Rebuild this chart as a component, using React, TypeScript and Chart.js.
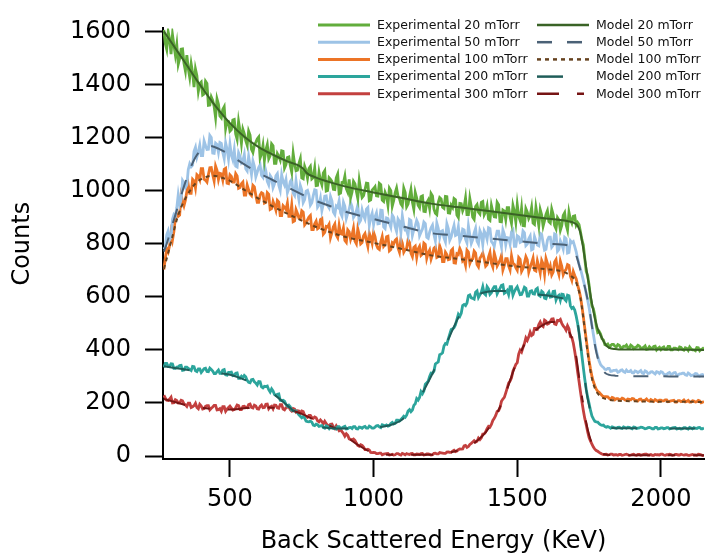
import React, { useEffect, useRef } from "react";
import { Chart, registerables } from "chart.js";

Chart.register(...registerables);

// Channel grid of the experimental spectra (keV)
const energyStart = 270;
const energyStep = 5;

// Experimental spectra (counts), one value per 5 keV channel from 270 keV; each row spans 100 keV
const exp20 = [
  1605, 1554, 1532, 1598, 1571, 1514, 1587, 1547, 1511, 1550, 1476, 1498, 1533, 1534, 1480, 1451, 1510, 1460, 1427, 1477,
  1444, 1390, 1458, 1433, 1374, 1404, 1409, 1360, 1364, 1412, 1404, 1321, 1322, 1353, 1340, 1317, 1276, 1345, 1325, 1281,
  1274, 1306, 1316, 1234, 1262, 1260, 1224, 1230, 1266, 1268, 1213, 1193, 1260, 1225, 1178, 1231, 1214, 1188, 1171, 1224,
  1209, 1155, 1144, 1171, 1182, 1195, 1202, 1123, 1139, 1170, 1114, 1153, 1173, 1120, 1132, 1176, 1169, 1103, 1103, 1139,
  1129, 1115, 1150, 1148, 1085, 1098, 1125, 1127, 1095, 1070, 1140, 1100, 1075, 1077, 1102, 1120, 1048, 1045, 1091, 1075,
  1047, 1083, 1091, 1044, 1049, 1085, 1019, 1020, 1068, 1039, 1022, 1066, 1075, 998, 1000, 1048, 1042, 1034, 1005, 1004,
  1048, 1062, 988, 991, 1030, 1029, 1054, 1007, 994, 1042, 973, 995, 1035, 1026, 998, 971, 1038, 1003, 974, 981,
  1003, 1028, 1027, 962, 965, 1002, 1008, 1015, 980, 979, 1027, 1022, 964, 959, 993, 980, 945, 1009, 1000, 942,
  963, 992, 1010, 979, 970, 950, 942, 1009, 993, 939, 949, 978, 1004, 957, 930, 993, 972, 945, 936, 977,
  980, 922, 921, 954, 964, 933, 989, 980, 931, 915, 910, 955, 974, 969, 937, 933, 978, 977, 916, 915,
  945, 936, 970, 966, 908, 899, 952, 951, 924, 938, 972, 910, 910, 970, 939, 900, 892, 940, 947, 919,
  912, 956, 959, 909, 920, 942, 893, 888, 944, 920, 901, 900, 956, 947, 883, 882, 927, 923, 891, 936,
  936, 901, 877, 944, 921, 882, 947, 904, 888, 933, 868, 867, 932, 919, 895, 906, 936, 878, 873, 937,
  903, 868, 928, 908, 866, 887, 910, 924, 883, 878, 930, 910, 868, 856, 898, 889, 851, 869, 906, 916,
  871, 851, 918, 891, 878, 903, 905, 870, 880, 872, 845, 815, 795, 745, 696, 680, 645, 598, 566, 555,
  529, 490, 466, 470, 460, 442, 437, 420, 418, 422, 411, 416, 421, 421, 414, 411, 420, 417, 408, 407,
  414, 413, 418, 408, 406, 418, 414, 405, 409, 411, 417, 414, 406, 407, 410, 415, 402, 403, 412, 407,
  405, 413, 414, 400, 406, 410, 401, 408, 411, 402, 402, 413, 413, 400, 400, 407, 407, 404, 401, 411,
  409, 402, 399, 408, 406, 398, 411, 404, 400, 400, 397, 409, 408, 397, 402, 404, 409,
];

const exp50 = [
  779, 788, 833, 848, 815, 826, 892, 910, 904, 935, 984, 948, 966, 1038, 1029, 1012, 1022, 1080, 1101, 1090,
  1096, 1148, 1163, 1126, 1145, 1171, 1132, 1132, 1187, 1170, 1155, 1156, 1208, 1200, 1141, 1140, 1179, 1174, 1144, 1181,
  1178, 1145, 1121, 1180, 1156, 1119, 1174, 1134, 1116, 1154, 1092, 1089, 1143, 1130, 1105, 1112, 1136, 1082, 1074, 1129,
  1094, 1061, 1112, 1092, 1052, 1069, 1087, 1097, 1057, 1050, 1095, 1075, 1035, 1022, 1057, 1048, 1011, 1025, 1056, 1064,
  1020, 1001, 1060, 1034, 1021, 1042, 992, 1007, 1034, 1042, 991, 982, 1037, 997, 966, 1019, 1002, 955, 966, 998,
  1001, 982, 945, 954, 981, 1003, 1001, 938, 946, 971, 925, 950, 979, 980, 944, 935, 978, 962, 919, 910,
  942, 937, 962, 916, 904, 956, 941, 895, 914, 930, 955, 940, 899, 908, 923, 946, 879, 888, 927, 906,
  893, 930, 936, 870, 899, 915, 872, 901, 916, 875, 876, 926, 925, 863, 857, 897, 895, 877, 862, 908,
  899, 864, 846, 893, 884, 842, 905, 870, 851, 850, 831, 891, 887, 831, 853, 866, 888, 876, 830, 843,
  855, 882, 876, 824, 820, 844, 860, 870, 835, 811, 878, 858, 823, 846, 849, 822, 807, 875, 857, 813,
  825, 849, 869, 831, 834, 864, 809, 822, 855, 852, 817, 803, 867, 833, 801, 815, 841, 858, 810, 799,
  849, 836, 797, 848, 837, 817, 860, 857, 808, 801, 790, 821, 847, 847, 815, 788, 852, 835, 796, 823,
  822, 799, 845, 852, 790, 790, 830, 826, 805, 808, 848, 841, 793, 799, 819, 829, 777, 780, 827, 810,
  795, 792, 839, 835, 804, 776, 779, 813, 825, 825, 787, 794, 837, 834, 771, 778, 811, 798, 780, 824,
  819, 765, 767, 811, 804, 808, 790, 770, 745, 722, 705, 685, 662, 640, 612, 588, 560, 525, 492, 458,
  425, 398, 375, 358, 345, 338, 334, 327, 326, 330, 330, 319, 320, 323, 323, 324, 316, 318, 323, 325,
  318, 315, 324, 318, 318, 322, 314, 313, 321, 319, 314, 318, 322, 313, 311, 321, 318, 311, 312, 317,
  318, 313, 309, 318, 316, 311, 318, 316, 309, 307, 307, 312, 315, 308, 309, 314, 315, 305, 305, 310,
  310, 312, 312, 306, 304, 313, 309, 303, 305, 306, 311, 310, 303, 301, 306, 307, 300,
];

const exp100 = [
  703, 744, 781, 769, 793, 841, 814, 846, 896, 913, 903, 908, 982, 961, 943, 964, 997, 1022, 990, 990,
  1043, 1037, 1010, 1060, 1055, 1041, 1083, 1083, 1043, 1039, 1032, 1061, 1086, 1087, 1060, 1036, 1092, 1076, 1042, 1065,
  1063, 1040, 1080, 1084, 1028, 1026, 1059, 1053, 1032, 1032, 1064, 1055, 1009, 1012, 1026, 1032, 983, 983, 1021, 1003,
  987, 981, 1020, 1014, 983, 956, 956, 983, 992, 989, 953, 956, 992, 986, 929, 932, 959, 944, 926, 963,
  957, 906, 906, 943, 937, 929, 953, 903, 903, 946, 883, 886, 928, 914, 896, 894, 924, 919, 871, 878,
  890, 900, 906, 853, 853, 875, 885, 856, 860, 891, 895, 836, 843, 865, 863, 873, 823, 842, 864, 874,
  833, 823, 869, 838, 836, 859, 812, 805, 852, 845, 816, 833, 859, 810, 800, 856, 833, 799, 804, 830,
  838, 813, 790, 840, 824, 802, 843, 827, 795, 782, 778, 807, 827, 790, 797, 826, 828, 773, 778, 804,
  799, 813, 818, 784, 768, 818, 802, 768, 778, 783, 815, 805, 764, 751, 786, 791, 748, 780, 790, 756,
  761, 802, 797, 745, 765, 776, 742, 760, 783, 788, 748, 751, 792, 776, 733, 733, 768, 759, 740, 742,
  774, 780, 728, 727, 762, 759, 782, 769, 735, 741, 719, 776, 769, 726, 740, 743, 772, 765, 722, 713,
  745, 754, 765, 743, 715, 721, 750, 767, 727, 712, 765, 744, 716, 727, 738, 756, 701, 718, 744, 744,
  716, 701, 754, 726, 722, 710, 700, 748, 741, 696, 707, 728, 751, 739, 693, 711, 728, 746, 700, 697,
  735, 714, 689, 737, 724, 685, 744, 726, 698, 716, 682, 693, 731, 740, 703, 684, 734, 715, 683, 696,
  703, 721, 718, 678, 662, 695, 680, 668, 645, 625, 600, 565, 525, 482, 440, 398, 360, 328, 300, 280,
  265, 252, 244, 240, 234, 228, 223, 224, 224, 223, 217, 214, 221, 219, 212, 216, 216, 213, 213, 218,
  216, 211, 210, 215, 214, 212, 217, 216, 210, 210, 208, 214, 215, 208, 210, 211, 215, 209, 207, 213,
  210, 206, 213, 210, 206, 211, 211, 208, 208, 212, 212, 205, 206, 208, 209, 210, 203, 203, 209, 209,
  205, 207, 211, 204, 206, 210, 203, 203, 208, 207, 204, 205, 210, 208, 201, 203, 206,
];

const exp200 = [
  334, 349, 349, 338, 338, 348, 347, 330, 330, 335, 336, 341, 342, 323, 324, 335, 335, 331, 326, 322,
  338, 337, 321, 318, 328, 328, 315, 322, 329, 331, 319, 318, 331, 326, 320, 311, 311, 318, 324, 312,
  312, 324, 326, 306, 305, 315, 315, 316, 303, 304, 312, 313, 293, 293, 301, 295, 304, 299, 285, 278,
  276, 288, 289, 280, 275, 268, 281, 280, 261, 257, 263, 262, 264, 250, 241, 253, 245, 232, 229, 233,
  234, 210, 209, 210, 207, 195, 188, 192, 186, 173, 172, 170, 170, 163, 155, 150, 144, 149, 143, 132,
  130, 129, 132, 128, 117, 115, 120, 118, 112, 114, 115, 108, 105, 114, 111, 104, 113, 109, 104, 106,
  102, 111, 111, 105, 106, 110, 112, 102, 103, 107, 108, 104, 111, 111, 103, 102, 109, 108, 105, 110,
  112, 105, 105, 113, 110, 105, 105, 109, 114, 115, 110, 107, 118, 116, 114, 117, 113, 115, 123, 127,
  121, 123, 135, 135, 132, 138, 143, 150, 146, 154, 170, 175, 167, 173, 191, 197, 217, 211, 221, 243,
  235, 245, 271, 276, 282, 300, 313, 312, 320, 347, 351, 355, 382, 384, 389, 415, 424, 422, 441, 459,
  477, 479, 484, 495, 515, 534, 526, 538, 567, 571, 567, 577, 604, 607, 596, 594, 591, 617, 622, 597,
  607, 618, 638, 612, 607, 638, 630, 609, 615, 630, 638, 638, 611, 622, 632, 643, 645, 613, 617, 624,
  608, 638, 638, 606, 620, 630, 638, 623, 608, 609, 621, 636, 632, 603, 603, 621, 623, 611, 610, 628,
  632, 606, 602, 621, 616, 595, 593, 610, 618, 599, 600, 620, 621, 588, 601, 606, 587, 610, 609, 591,
  585, 606, 604, 566, 556, 560, 550, 528, 500, 465, 425, 378, 333, 290, 252, 222, 198, 172, 151, 140,
  131, 129, 128, 122, 118, 116, 117, 111, 109, 111, 109, 105, 110, 108, 106, 105, 108, 109, 106, 104,
  110, 108, 105, 109, 108, 106, 103, 109, 108, 104, 105, 106, 109, 108, 106, 103, 104, 107, 108, 106,
  103, 103, 108, 108, 102, 103, 106, 106, 103, 104, 107, 107, 102, 104, 106, 107, 108, 102, 103, 105,
  102, 103, 107, 107, 104, 102, 108, 106, 103, 107, 105, 104, 107, 108, 103, 103, 106,
];

const exp300 = [
  229, 219, 210, 209, 215, 222, 200, 201, 212, 209, 200, 201, 210, 208, 197, 193, 187, 199, 199, 183,
  186, 190, 199, 183, 178, 195, 189, 177, 179, 187, 190, 190, 174, 180, 185, 191, 191, 174, 175, 179,
  169, 186, 186, 169, 177, 183, 188, 181, 173, 175, 182, 192, 190, 175, 175, 187, 188, 183, 182, 194,
  196, 183, 181, 192, 189, 178, 177, 187, 192, 182, 183, 195, 196, 178, 185, 188, 178, 192, 191, 182,
  180, 194, 194, 177, 174, 182, 184, 186, 175, 170, 179, 177, 166, 171, 170, 162, 170, 168, 154, 150,
  146, 153, 153, 145, 142, 147, 144, 133, 129, 136, 130, 121, 131, 123, 115, 115, 120, 121, 110, 104,
  114, 105, 96, 100, 92, 85, 75, 84, 78, 65, 63, 61, 64, 59, 49, 40, 37, 43, 40, 34,
  24, 24, 26, 23, 14, 13, 14, 13, 9, 9, 11, 11, 5, 7, 8, 9, 10, 4, 5, 7,
  4, 5, 9, 9, 6, 4, 10, 8, 5, 9, 7, 6, 9, 10, 5, 5, 8, 7, 6, 9,
  10, 4, 5, 8, 8, 7, 4, 5, 10, 11, 8, 8, 13, 12, 11, 10, 10, 15, 16, 14,
  14, 19, 22, 17, 19, 24, 27, 26, 27, 38, 40, 33, 36, 44, 48, 53, 58, 53, 56, 68,
  62, 69, 83, 84, 91, 103, 112, 109, 119, 134, 142, 153, 168, 171, 183, 206, 215, 221, 238, 256,
  275, 283, 295, 320, 332, 345, 352, 384, 399, 392, 409, 424, 445, 436, 449, 467, 454, 458, 481, 481,
  478, 495, 505, 492, 488, 512, 508, 497, 500, 507, 516, 517, 498, 496, 511, 510, 515, 500, 490, 484,
  474, 491, 480, 450, 447, 426, 395, 360, 318, 282, 243, 205, 172, 142, 118, 92, 70, 56, 45, 34,
  26, 21, 18, 14, 11, 8, 6, 6, 7, 4, 5, 7, 7, 4, 5, 5, 3, 6, 6, 3,
  4, 6, 7, 5, 3, 4, 6, 7, 4, 3, 6, 6, 3, 5, 6, 7, 7, 4, 4, 6,
  3, 3, 6, 5, 5, 4, 7, 7, 4, 3, 5, 5, 7, 6, 3, 4, 6, 6, 4, 4,
  7, 5, 4, 5, 5, 3, 3, 5, 6, 4, 4, 3, 7, 6, 5, 2, 3,
];

// Model curves (energy in keV, counts)
const model20Energy = [270, 300, 350, 400, 450, 500, 550, 600, 650, 700, 740, 755, 770, 800, 850, 900, 1000, 1100, 1200, 1300, 1400, 1500, 1600, 1680, 1700, 1710, 1720, 1730, 1740, 1750, 1760, 1770, 1780, 1790, 1800, 1810, 1820, 1840, 1870, 2000, 2150];
const model20 = [1600, 1552, 1472, 1392, 1318, 1254, 1203, 1164, 1135, 1110, 1094, 1082, 1064, 1049, 1031, 1016, 993, 972, 951, 937, 923, 909, 895, 884, 877, 868, 840, 780, 710, 640, 575, 520, 480, 455, 433, 416, 408, 403, 401, 401, 400];

const model50Energy = [270, 280, 300, 320, 340, 360, 380, 400, 430, 460, 500, 550, 600, 650, 700, 750, 800, 850, 900, 1000, 1100, 1200, 1300, 1400, 1500, 1600, 1680, 1690, 1700, 1710, 1720, 1730, 1740, 1750, 1760, 1770, 1780, 1790, 1800, 1810, 1820, 1840, 1900, 2150];
const model50 = [770, 800, 872, 944, 1016, 1078, 1126, 1153, 1168, 1158, 1134, 1099, 1067, 1039, 1013, 986, 961, 941, 921, 893, 865, 840, 830, 820, 810, 800, 793, 788, 770, 740, 700, 660, 615, 560, 490, 420, 370, 338, 320, 310, 306, 303, 301, 300];

const model100Energy = [270, 280, 300, 320, 340, 360, 380, 400, 440, 480, 500, 550, 600, 650, 700, 750, 800, 850, 900, 1000, 1100, 1200, 1300, 1400, 1500, 1600, 1650, 1670, 1690, 1700, 1710, 1720, 1730, 1740, 1750, 1760, 1770, 1780, 1790, 1800, 1820, 1850, 2150];
const model100 = [705, 744, 828, 908, 960, 998, 1027, 1043, 1056, 1046, 1037, 1003, 970, 940, 913, 887, 863, 843, 826, 803, 780, 756, 742, 728, 714, 704, 697, 690, 676, 665, 638, 596, 520, 430, 350, 292, 256, 236, 225, 218, 212, 208, 204];

const model200Energy = [270, 350, 450, 500, 550, 600, 650, 700, 750, 800, 850, 900, 960, 1000, 1040, 1070, 1100, 1140, 1200, 1250, 1300, 1330, 1350, 1380, 1420, 1450, 1500, 1550, 1600, 1650, 1670, 1680, 1690, 1700, 1710, 1720, 1730, 1740, 1750, 1760, 1770, 1790, 1820, 1850, 2150];
const model200 = [338, 325, 313, 306, 288, 266, 235, 190, 145, 115, 105, 104, 104, 107, 112, 121, 138, 184, 300, 416, 532, 583, 600, 615, 622, 622, 617, 611, 606, 596, 589, 581, 567, 546, 505, 420, 340, 250, 190, 155, 134, 116, 106, 105, 104];

const model300Energy = [270, 300, 350, 400, 450, 500, 550, 600, 650, 700, 720, 750, 800, 850, 880, 900, 950, 1000, 1050, 1100, 1200, 1250, 1300, 1350, 1400, 1450, 1500, 1530, 1560, 1600, 1620, 1640, 1660, 1680, 1690, 1700, 1710, 1720, 1730, 1740, 1750, 1760, 1780, 1800, 1830, 2150];
const model300 = [215, 206, 191, 182, 177, 175, 180, 183, 182, 178, 171, 159, 134, 113, 96, 78, 39, 11, 5, 5, 5, 10, 24, 49, 104, 210, 360, 430, 470, 500, 505, 503, 492, 468, 445, 410, 340, 260, 193, 127, 80, 48, 18, 8, 4, 3];

const expLabels = [
  "Experimental 20 mTorr",
  "Experimental 50 mTorr",
  "Experimental 100 mTorr",
  "Experimental 200 mTorr",
  "Experimental 300 mTorr",
];
const modelLabels = [
  "Model 20 mTorr",
  "Model 50 mTorr",
  "Model 100 mTorr",
  "Model 200 mTorr",
  "Model 300 mTorr",
];

const xTicks = [500, 1000, 1500, 2000];
const yTicks = [0, 200, 400, 600, 800, 1000, 1200, 1400, 1600];

const expColors = ["#62ad3c", "#9dc3e6", "#ec7426", "#2ca59c", "#c3403f"];
const modelColors = ["#3a6326", "#4b6176", "#66421f", "#1f5d59", "#761414"];
const modelDashes = [[], [15, 15], [4, 4], [26, 32], [22, 18, 7, 18]];

const FONT = '"DejaVu Sans", "Lucida Grande", sans-serif';

const twoColumnLegend = {
  id: "twoColumnLegend",
  afterDraw(chart: any) {
    const ctx = chart.ctx;
    const datasets = chart.data.datasets;
    const rowY = [25, 42.2, 59.4, 76.6, 93.8];
    const colX = [318, 537];
    ctx.save();
    ctx.font = `12.5px ${FONT}`;
    ctx.textBaseline = "middle";
    ctx.textAlign = "left";
    datasets.forEach((ds: any, i: number) => {
      const col = i < 5 ? 0 : 1;
      const row = i % 5;
      const x0 = colX[col];
      const y = rowY[row];
      ctx.strokeStyle = ds.borderColor;
      ctx.lineWidth = col === 0 ? 3 : 2.5;
      ctx.setLineDash(ds.borderDash || []);
      ctx.beginPath();
      ctx.moveTo(x0, y);
      ctx.lineTo(x0 + 52, y);
      ctx.stroke();
      ctx.setLineDash([]);
      ctx.fillStyle = "#111";
      ctx.fillText(ds.label, x0 + 59, y + 0.5);
    });
    ctx.restore();
  },
};

function channelPoints(values: number[]) {
  return values.map((y, i) => ({ x: energyStart + i * energyStep, y }));
}
function pairPoints(energies: number[], values: number[]) {
  return energies.map((x, i) => ({ x, y: values[i] }));
}

export default function App() {
  const canvasRef = useRef<HTMLCanvasElement | null>(null);

  useEffect(() => {
    const canvas = canvasRef.current;
    if (!canvas) return;
    const expSeries = [exp20, exp50, exp100, exp200, exp300];
    const modelSeries = [
      [model20Energy, model20],
      [model50Energy, model50],
      [model100Energy, model100],
      [model200Energy, model200],
      [model300Energy, model300],
    ];
    const expDatasets = expSeries.map((vals, i) => ({
      label: expLabels[i],
      data: channelPoints(vals),
      borderColor: expColors[i],
      backgroundColor: expColors[i],
      borderWidth: 2.8,
      pointRadius: 0,
      tension: 0,
      fill: false,
      order: 2,
    }));
    const modelDatasets = modelSeries.map(([es, vs], i) => ({
      label: modelLabels[i],
      data: pairPoints(es, vs),
      borderColor: modelColors[i],
      backgroundColor: modelColors[i],
      borderWidth: 2,
      borderDash: modelDashes[i],
      pointRadius: 0,
      cubicInterpolationMode: "monotone",
      fill: false,
      order: 1,
    }));

    const tickFont = { family: FONT, size: 24 };
    const chart = new Chart(canvas, {
      type: "line",
      data: { datasets: [...expDatasets, ...modelDatasets] as any },
      options: {
        animation: false,
        responsive: false,
        events: [],
        layout: { padding: { top: 17, right: 1, left: 0, bottom: 0 } },
        plugins: {
          legend: { display: false },
          tooltip: { enabled: false },
        },
        scales: {
          x: {
            type: "linear",
            min: 267,
            max: 2150,
            afterBuildTicks: (axis: any) => {
              axis.ticks = xTicks.map((v) => ({ value: v }));
            },
            afterFit: (axis: any) => {
              axis.height = 99;
            },
            grid: {
              display: true,
              drawOnChartArea: false,
              drawTicks: true,
              tickLength: 18,
              tickColor: "#000",
              tickWidth: 2,
            },
            border: { display: true, color: "#000", width: 2 },
            ticks: {
              color: "#000",
              font: tickFont,
              padding: 8,
              maxRotation: 0,
              autoSkip: false,
              callback: (v: any) => String(v),
            },
            title: {
              display: true,
              text: "Back Scattered Energy (KeV)",
              color: "#000",
              font: tickFont,
              padding: { top: 0, bottom: 2 },
            },
          },
          y: {
            type: "linear",
            min: -11,
            max: 1611,
            afterBuildTicks: (axis: any) => {
              axis.ticks = yTicks.map((v) => ({ value: v }));
            },
            afterFit: (axis: any) => {
              axis.width = 163;
            },
            grid: {
              display: true,
              drawOnChartArea: false,
              drawTicks: true,
              tickLength: 18,
              tickColor: "#000",
              tickWidth: 2,
            },
            border: { display: true, color: "#000", width: 2 },
            ticks: {
              color: "#000",
              font: tickFont,
              padding: 14,
              autoSkip: false,
              callback: (v: any) => String(v),
            },
            title: {
              display: true,
              text: "Counts",
              color: "#000",
              font: tickFont,
              padding: { top: 8, bottom: 0 },
            },
          },
        },
      },
      plugins: [twoColumnLegend],
    } as any);

    return () => {
      chart.destroy();
    };
  }, []);

  return (
    <div
      style={{
        position: "fixed",
        left: 0,
        top: 0,
        width: 705,
        height: 558,
        background: "#fff",
      }}
    >
      <canvas
        ref={canvasRef}
        width={705}
        height={558}
        style={{ display: "block", width: 705, height: 558 }}
      />
    </div>
  );
}
